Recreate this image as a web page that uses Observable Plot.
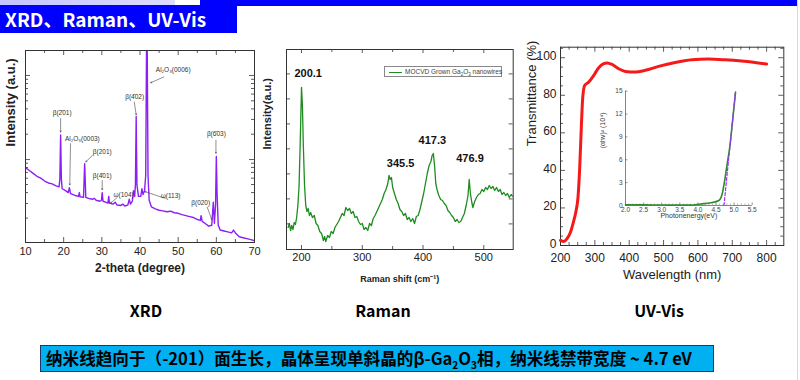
<!DOCTYPE html>
<html><head><meta charset="utf-8">
<script src="https://cdn.jsdelivr.net/npm/d3@7"></script>
<script src="https://cdn.jsdelivr.net/npm/@observablehq/plot@0.6"></script>
<style>
body{margin:0;background:#fff;}
#slide{position:relative;width:800px;height:380px;overflow:hidden;background:#fff;font-family:"Liberation Sans",Arial,sans-serif;}
.abs{position:absolute;}
.ctitle{position:absolute;top:298px;font-family:"Noto Sans CJK SC",sans-serif;font-weight:700;font-size:16px;color:#000;transform:translateX(-50%);white-space:nowrap;}
</style></head><body>
<div id="slide">
  <div class="abs" style="left:0;top:0;width:175px;height:5px;background:linear-gradient(to right,#c4c4ff,#dcdcff);"></div>
  <div class="abs" style="left:200px;top:0;width:598px;height:6px;background:#0000ff;"></div>
  <div class="abs" style="left:0;top:5px;width:237px;height:28px;background:#0000ff;color:#fff;font-family:'Noto Sans CJK SC',sans-serif;font-weight:700;font-size:19px;line-height:28px;padding-left:5px;box-sizing:border-box;white-space:nowrap;">XRD、Raman、UV-Vis</div>
  <div class="abs" style="left:797px;top:0;width:1px;height:380px;background:#d8d8d8;"></div>
  <div id="xrd" class="abs" style="left:0;top:40px;"></div>
  <div id="raman" class="abs" style="left:270px;top:40px;"></div>
  <div id="uv" class="abs" style="left:525px;top:40px;"></div>
  <div id="inset" class="abs" style="left:590px;top:80px;"></div>
  <div class="abs" style="left:384px;top:66px;width:118px;height:11px;border:0.6px solid #888;box-sizing:border-box;background:#fff;">
    <div class="abs" style="left:4px;top:4.5px;width:13px;height:1.3px;background:#1f8c1f;"></div>
    <div class="abs" style="left:20px;top:0;font-size:6.5px;line-height:10px;color:#444;white-space:nowrap;">MOCVD Grown Ga<sub style="font-size:4.5px">2</sub>O<sub style="font-size:4.5px">3</sub> nanowires</div>
  </div>
  <div class="ctitle" style="left:146px;">XRD</div>
  <div class="ctitle" style="left:383px;">Raman</div>
  <div class="ctitle" style="left:659px;">UV-Vis</div>
  <div class="abs" style="left:40px;top:345px;width:674px;height:27px;background:#00b0f0;border:1px solid #1f3864;box-sizing:border-box;font-family:'Noto Sans CJK SC',sans-serif;font-weight:700;font-size:16.6px;line-height:25px;padding-left:5px;color:#000;white-space:nowrap;">纳米线趋向于（-201）面生长，晶体呈现单斜晶的β-Ga<sub style="font-size:10px;line-height:0">2</sub>O<sub style="font-size:10px;line-height:0">3</sub>相，纳米线禁带宽度 ~ 4.7 eV</div>
</div>
<script>
const FONT = '"Liberation Sans", Arial, sans-serif';

// ---------- XRD data ----------
const xrdPoints = [[10,39],[11,37.5],[12,36],[13,34.5],[14,33.5],[15,32],[16,31],[17,30.5],[18,29.5],[18.8,29],[19.0,33],[19.2,56],[19.4,33],[19.6,28],[20.5,27],[21.2,26],[21.5,28.5],[21.8,25.5],[23,24.5],[23.9,24],[24.1,26],[24.3,23.8],[25.2,23.5],[25.5,41],[25.8,23.5],[26.5,23],[27.5,22.5],[28,23],[28.5,22],[29.5,21.5],[29.9,22],[30.1,26],[30.3,21.5],[31,21],[31.6,20.5],[31.8,24],[32.0,20.5],[33,20],[33.5,21],[34,19.5],[35,19.3],[35.5,20],[36,19],[36.8,19.5],[37.2,22.5],[37.5,20],[38,21.5],[38.3,27],[38.6,24],[38.8,30],[39.0,65.6],[39.2,30],[39.6,24],[40.2,24],[40.5,28],[40.8,25],[41.2,27],[41.5,35],[41.8,130],[42.1,35],[42.4,22],[43,18.5],[44,17.5],[45,16.8],[46,16.5],[47,16],[48,16.3],[49,15.5],[50,15.2],[51,14.5],[52,14],[53,13.5],[54,13],[55,12],[55.8,11.5],[56,14],[56.3,11],[57,10],[58,8.5],[58.8,9],[59.2,21],[59.5,10],[59.8,20],[60.0,44.8],[60.2,25],[60.5,9],[61,6.5],[62,6],[63,5.5],[64,5],[64.5,6.5],[65,5],[66,3],[67,2.5],[68,2],[69,1.5],[70,1]];
const xrdTickLabels = [10,20,30,40,50,60,70];
const xrdMinorX = [15,25,35,45,55,65];
const xrdMajorY = [43.2, 87];
const xrdMinorY = [12.7,20.3,26,30.2,33.5,36.5,39.1,41.3,56.4,64.1,69.6,73.8,77.3,80.2,82.8,85];
const xrdLabels = [
  {x:19.6, y:67.3, t:"β(2\u030401)"},
  {x:24.9, y:54.2, t:"Al₂O₃(0003)"},
  {x:30.1, y:47, t:"β(201)"},
  {x:30.1, y:34.9, t:"β(4\u030401)"},
  {x:35.7, y:25, t:"ω(104)"},
  {x:38.6, y:76, t:"β(4\u030402)"},
  {x:48.7, y:90, t:"Al₂O₃(0006)"},
  {x:48.0, y:24.5, t:"ω(113)"},
  {x:55.9, y:20.8, t:"β(020)"},
  {x:60.0, y:56.3, t:"β(6\u030403)"}
];
const xrdArrows = [
  {x1:19.2, y1:64.5, x2:19.2, y2:57.5},
  {x1:21.8, y1:51.5, x2:21.6, y2:30},
  {x1:27.5, y1:45.3, x2:25.8, y2:42},
  {x1:30.1, y1:32.3, x2:30.1, y2:27.5},
  {x1:34.0, y1:23.4, x2:32.3, y2:20.5},
  {x1:38.5, y1:73.2, x2:39.0, y2:66.5},
  {x1:46.2, y1:86.2, x2:42.8, y2:83.2},
  {x1:46.6, y1:23, x2:41.3, y2:26.5},
  {x1:57.6, y1:18.4, x2:58.8, y2:12},
  {x1:59.9, y1:53.2, x2:59.9, y2:46.5}
];

// ---------- Raman data ----------
const ramanPoints = [[178,11],[180,13],[182,9.5],[184,12],[186,10],[188,13.5],[190,12.5],[192,16],[194,22],[196,32],[198,55],[200,81],[201.5,72],[203,52],[205,32],[207,22],[209,19],[211,20.5],[213,17],[215,18.5],[218,16],[221,17],[224,13],[227,12],[230,9],[233,8],[236,4.5],[238,6.5],[240,4],[243,7],[246,6],[249,9],[252,8],[255,11],[258,12.5],[261,14],[264,16],[267,18],[270,17],[273,21],[276,19.5],[279,20.5],[282,18],[285,19],[288,16],[291,16.5],[294,14],[297,12.5],[300,13],[303,10],[306,11],[309,9.5],[312,13],[315,12],[318,15.5],[321,17],[324,19],[327,21],[330,23],[333,25],[336,28],[339,30],[342,33],[344,37],[346,35],[348,36],[350,31],[353,28],[356,25],[359,23],[362,20],[365,19],[368,17],[371,18],[374,15],[377,16],[380,14],[383,15.5],[386,13],[389,16.5],[392,17],[395,20],[398,24],[401,28],[404,33],[407,38],[410,42],[413,44],[415,47],[417,48],[419,42],[421,33],[423,30],[426,27],[429,25],[432,24.5],[435,23],[438,22],[441,19.5],[444,18.5],[447,17],[450,16],[453,14],[456,15],[459,13.5],[462,14],[465,16],[468,18],[471,22],[474,27],[476,35],[478,28],[480,24],[482,21],[485,24],[488,26],[491,27.5],[494,28],[497,30],[500,29],[503,31],[506,30],[509,32],[512,30.5],[515,31.5],[518,29.5],[521,31],[524,29],[527,30],[530,27.5],[533,28.5],[536,27],[539,28],[542,26],[545,27.5],[548,26.5]];
const ramanTickLabels = [200,300,400,500];
const ramanMinorX = [250,350,450];
const ramanTicksY = [12.8,25.3,37.8,50.3,62.8,75.3,87.8];
const ramanPeaks = [
  {x:211, y:87.8, t:"200.1"},
  {x:363, y:43.2, t:"345.5"},
  {x:415.3, y:54.5, t:"417.3"},
  {x:477.3, y:45.3, t:"476.9"}
];

// ---------- UV-Vis data ----------
const uvPoints = [[200,2.7],[209.7,2.1],[219,3.6],[229,7.1],[238.7,13.3],[245.5,18.6],[251,25.8],[256,41.7],[261,64.8],[264.8,79],[270.6,85.3],[282,87],[296.8,90.6],[311.3,94.7],[325.8,96.8],[335.5,97.2],[350,96.4],[369.4,94.1],[388.7,92.7],[417.7,92.4],[446.8,93.3],[485.5,95.4],[533.9,97.5],[582.3,98.9],[630.7,99.3],[679,98.9],[727.4,98.2],[775.8,97.2],[800,96.6]];
const uvTickX = [200,300,400,500,600,700,800];
const uvMinorX = [225,250,275,325,350,375,425,450,475,525,550,575,625,650,675,725,750,775,825];
const uvTickY = [0,20,40,60,80,100];
const uvMinorY = [5,10,15,25,30,35,45,50,55,65,70,75,85,90,95,105];

// ---------- Inset (Tauc) data ----------
const taucPoints = [[2.0,0.1],[2.5,0.08],[3.0,0.06],[3.5,0.05],[3.8,0.05],[4.07,0.2],[4.35,0.35],[4.58,0.66],[4.67,1.5],[4.74,3.3],[4.81,5.5],[4.88,7.65],[4.96,11.2],[5.04,14.9]];
const taucFit = [[4.72,0],[5.04,15]];
const insetTickX = [2.0,2.5,3.0,3.5,4.0,4.5,5.0,5.5];
const insetMinorX = [2.1,2.2,2.3,2.4,2.6,2.7,2.8,2.9,3.1,3.2,3.3,3.4,3.6,3.7,3.8,3.9,4.1,4.2,4.3,4.4,4.6,4.7,4.8,4.9,5.1,5.2,5.3,5.4];
const insetTickY = [0,3,6,9,12,15];

// ---------- helpers ----------
function inward(W, H, {xs = [], ys = [], len = 4, top = true, right = true, stroke = "#333"}) {
  const m = [
    Plot.tickX(xs, {x: d => d, insetTop: H - len, stroke, strokeWidth: 0.8}),
    Plot.tickY(ys, {y: d => d, insetRight: W - len, stroke, strokeWidth: 0.8})
  ];
  if (top) m.push(Plot.tickX(xs, {x: d => d, insetBottom: H - len, stroke, strokeWidth: 0.8}));
  if (right) m.push(Plot.tickY(ys, {y: d => d, insetLeft: W - len, stroke, strokeWidth: 0.8}));
  return m;
}
const baseStyle = {fontFamily: FONT, background: "transparent", overflow: "visible", color: "#222"};

// ---------- XRD ----------
{
  const W = 270, H = 250, mL = 25, mR = 16, mT = 10, mB = 48;
  const fw = W - mL - mR, fh = H - mT - mB;
  const p = Plot.plot({
    width: W, height: H, marginLeft: mL, marginRight: mR, marginTop: mT, marginBottom: mB,
    style: baseStyle,
    x: {domain: [10, 70]},
    y: {domain: [0, 100], axis: null},
    marks: [
      Plot.line(xrdPoints, {x: d => d[0], y: d => d[1], stroke: "#8b1ff5", strokeWidth: 1.4, clip: true}),
      Plot.frame({stroke: "#333", strokeWidth: 1}),
      ...inward(fw, fh, {xs: xrdTickLabels, ys: xrdMajorY, len: 5}),
      ...inward(fw, fh, {xs: xrdMinorX, ys: xrdMinorY, len: 3}),
      Plot.axisX(xrdTickLabels, {tickSize: 0, tickPadding: 5, fontSize: 11, label: null, fill: "#222"}),
      Plot.text(["2-theta (degree)"], {text: d => d, frameAnchor: "bottom", dy: 29, fontSize: 12, fontWeight: "bold", fill: "#222"}),
      Plot.text(["Intensity (a.u.)"], {text: d => d, frameAnchor: "left", dx: -15, rotate: -90, fontSize: 13, fontWeight: "bold", fill: "#222"}),
      Plot.arrow(xrdArrows, {x1: "x1", y1: "y1", x2: "x2", y2: "y2", stroke: "#444", strokeWidth: 0.6, headLength: 3}),
      Plot.text(xrdLabels, {x: "x", y: "y", text: "t", fontSize: 6.5, fill: "#333"})
    ]
  });
  document.getElementById("xrd").append(p);
}

// ---------- Raman ----------
{
  const W = 260, H = 250, mL = 16, mR = 17.3, mT = 9, mB = 41;
  const fw = W - mL - mR, fh = H - mT - mB;
  const p = Plot.plot({
    width: W, height: H, marginLeft: mL, marginRight: mR, marginTop: mT, marginBottom: mB,
    style: baseStyle,
    x: {domain: [175.3, 548.4]},
    y: {domain: [0, 100], axis: null},
    marks: [
      Plot.line(ramanPoints, {x: d => d[0], y: d => d[1], stroke: "#1f8c1f", strokeWidth: 1.3, clip: true}),
      Plot.frame({stroke: "#333", strokeWidth: 1}),
      ...inward(fw, fh, {xs: ramanTickLabels, ys: ramanTicksY, len: 4}),
      ...inward(fw, fh, {xs: ramanMinorX, ys: [], len: 3}),
      Plot.axisX(ramanTickLabels, {tickSize: 0, tickPadding: 4, fontSize: 11, label: null, fill: "#222"}),
      Plot.text(["Raman shift (cm⁻¹)"], {text: d => d, frameAnchor: "bottom", dy: 32, fontSize: 9, fontWeight: "bold", fill: "#222"}),
      Plot.text(["Intensity(a.u.)"], {text: d => d, frameAnchor: "left", dx: -19, rotate: -90, fontSize: 11, fontWeight: "bold", fill: "#222"}),
      Plot.text(ramanPeaks, {x: "x", y: "y", text: "t", fontSize: 11, fontWeight: "bold", fill: "#111"})
    ]
  });
  document.getElementById("raman").append(p);
}

// ---------- UV-Vis ----------
{
  const W = 275, H = 250, mL = 35, mR = 16.7, mT = 6.7, mB = 45;
  const fw = W - mL - mR, fh = H - mT - mB;
  const p = Plot.plot({
    width: W, height: H, marginLeft: mL, marginRight: mR, marginTop: mT, marginBottom: mB,
    style: baseStyle,
    x: {domain: [200, 850]},
    y: {domain: [0, 105.6]},
    marks: [
      Plot.frame({stroke: "#333", strokeWidth: 1}),
      ...inward(fw, fh, {xs: uvTickX, ys: uvTickY, len: 5}),
      ...inward(fw, fh, {xs: uvMinorX, ys: uvMinorY, len: 3}),
      Plot.line(uvPoints, {x: d => d[0], y: d => d[1], stroke: "#f51a1a", strokeWidth: 3, curve: "monotone-x"}),
      Plot.axisX(uvTickX, {tickSize: 0, tickPadding: 7.5, fontSize: 12, label: null, fill: "#222"}),
      Plot.axisY(uvTickY, {tickSize: 0, tickPadding: 4, fontSize: 12, dy: -1.5, label: null, fill: "#222"}),
      Plot.text(["Wavelength (nm)"], {text: d => d, frameAnchor: "bottom", dy: 33, fontSize: 13, fill: "#222"}),
      Plot.text(["Transmittance (%)"], {text: d => d, frameAnchor: "left", dx: -29, rotate: -90, fontSize: 13, fill: "#222"})
    ]
  });
  document.getElementById("uv").append(p);
}

// ---------- Inset ----------
{
  const W = 180, H = 150, mL = 35, mR = 18.3, mT = 10.7, mB = 25;
  const fw = W - mL - mR, fh = H - mT - mB;
  const p = Plot.plot({
    width: W, height: H, marginLeft: mL, marginRight: mR, marginTop: mT, marginBottom: mB,
    style: baseStyle,
    x: {domain: [2, 5.5]},
    y: {domain: [0, 15]},
    marks: [
      Plot.ruleY([0], {stroke: "#666", strokeWidth: 0.8}),
      Plot.ruleX([2], {stroke: "#666", strokeWidth: 0.8}),
      Plot.tickX(insetTickX, {x: d => d, insetTop: fh - 2.5, stroke: "#666", strokeWidth: 0.7}),
      Plot.tickX(insetMinorX, {x: d => d, insetTop: fh - 1.5, stroke: "#888", strokeWidth: 0.6}),
      Plot.tickY(insetTickY, {y: d => d, insetRight: fw - 2.5, stroke: "#666", strokeWidth: 0.7}),
      Plot.line(taucPoints, {x: d => d[0], y: d => d[1], stroke: "#2e8b2e", strokeWidth: 1.6, curve: "monotone-x"}),
      Plot.line(taucFit, {x: d => d[0], y: d => d[1], stroke: "#9b30ff", strokeWidth: 1.2, strokeDasharray: "3,2"}),
      Plot.axisX(insetTickX, {tickSize: 0, tickPadding: 2, fontSize: 6.5, label: null, fill: "#444", tickFormat: d3.format(".1f")}),
      Plot.axisY(insetTickY, {tickSize: 0, tickPadding: 3, fontSize: 6.5, label: null, fill: "#444"}),
      Plot.text(["Photonenergy(eV)"], {text: d => d, frameAnchor: "bottom", dy: 12, fontSize: 7, fill: "#333"}),
      Plot.text(["(αhν)² (10⁴)"], {text: d => d, frameAnchor: "left", dx: -23, rotate: -90, fontSize: 7, fill: "#333"})
    ]
  });
  document.getElementById("inset").append(p);
}
</script>
</body></html>
